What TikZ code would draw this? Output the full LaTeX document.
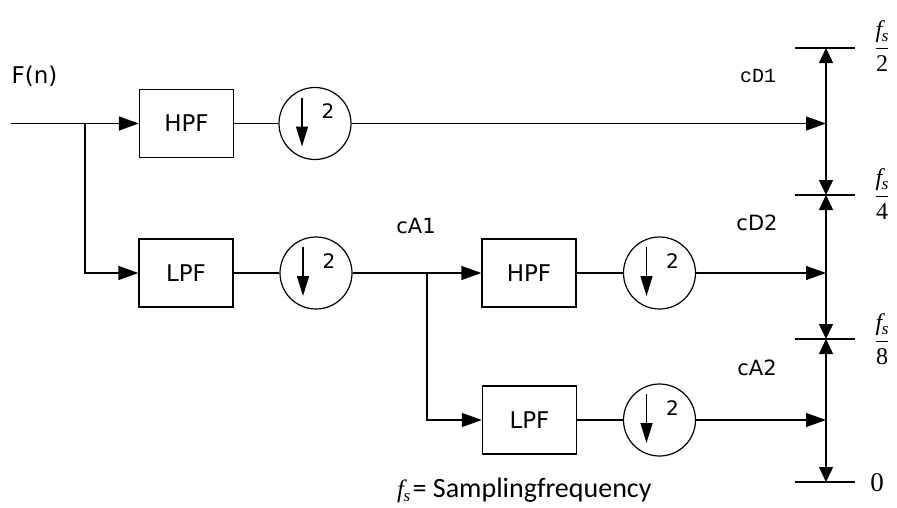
\documentclass[tikz,border=0pt]{standalone}
\usepackage{fontspec}
\setsansfont{DejaVu Sans}
\newfontfamily\monof{Liberation Mono}
\newfontfamily\calib{Carlito}
\newfontfamily\serf{Liberation Serif}
\usetikzlibrary{arrows.meta}
\newcommand\myfs{\hbox{\serf\itshape f\kern-0.5pt\raisebox{-4pt}{\fontsize{17}{17}\selectfont s}}}
\newcommand\myfrac[1]{$\displaystyle\frac{\myfs}{\hbox{\serf #1}}$}
\begin{document}
\begin{tikzpicture}[x=1pt,y=-1pt,line width=1.4pt,
  blk/.style={draw, minimum width=94pt, minimum height=68pt, inner sep=0pt,
    font=\sffamily\fontsize{23}{23}\selectfont},
  dsc/.style={draw, circle, minimum size=72pt, inner sep=0pt, line width=1.2pt},
  arr/.style={-{Triangle[length=20pt,width=14pt]}},
  darr/.style={-{Triangle[length=20pt,width=12pt]}},
  varr/.style={{Triangle[length=15pt,width=14pt]}-{Triangle[length=15pt,width=14pt]}},
  lbl/.style={font=\sffamily\fontsize{21}{21}\selectfont, inner sep=0pt},
  two/.style={font=\sffamily\fontsize{20}{20}\selectfont, inner sep=0pt},
  frc/.style={font=\fontsize{24}{24}\selectfont, inner sep=0pt}]
\useasboundingbox (0,0) rectangle (897,507);

% blocks
\node[blk] (hpf1) at (186.5,123.5) {HPF};
\node[blk] (lpf1) at (186,273) {LPF};
\node[dsc] (c1) at (315,123.5) {};
\node[dsc] (c2) at (316,273) {};
\node[blk] (hpf2) at (529,273) {HPF};
\node[blk] (lpf2) at (529.5,420) {LPF};
\node[dsc] (c3) at (659.5,273) {};
\node[dsc] (c4) at (659.5,420) {};

% down-sampling symbols
\foreach \c in {c1,c2,c3,c4}{
  \draw[darr] ([shift={(-13,-26)}]\c.center) -- ([shift={(-13,23)}]\c.center);
  \node[two] at ([shift={(13,-12)}]\c.center) {2};
}

% coordinates
\coordinate (in) at (11,123.5);
\coordinate (b1) at (85,123.5);
\coordinate (b1d) at (85,273);
\coordinate (b2) at (427,273);
\coordinate (b2d) at (427,420);
\coordinate (e1) at (826,123.5);
\coordinate (e2) at (826,273);
\coordinate (e3) at (826,420);
\coordinate (k0) at (826,48);
\coordinate (k1) at (826,195);
\coordinate (k2) at (826,339);
\coordinate (k3) at (826,482);

% connectors
\draw[arr] (in) -- (hpf1.west);
\draw[arr] (b1) -- (b1d) -- (lpf1.west);
\draw (hpf1.east) -- (c1.west);
\draw (lpf1.east) -- (c2.west);
\draw[arr] (c1.east) -- (e1);
\draw[arr] (c2.east) -- (hpf2.west);
\draw[arr] (b2) -- (b2d) -- (lpf2.west);
\draw (hpf2.east) -- (c3.west);
\draw (lpf2.east) -- (c4.west);
\draw[arr] (c3.east) -- (e2);
\draw[arr] (c4.east) -- (e3);

% frequency axis
\foreach \k in {k0,k1,k2,k3}{
  \draw ([xshift=-31]\k) -- ([xshift=29]\k);
}
\draw[varr] (k0) -- (k1);
\draw[varr] (k1) -- (k2);
\draw[varr] (k2) -- (k3);

\node[frc] (f2) at (882,46) {\myfrac{2}};
\node[frc] (f4) at (882,194) {\myfrac{4}};
\node[frc] (f8) at (882,339) {\myfrac{8}};
\node[inner sep=0pt, font=\serf\fontsize{27}{27}\selectfont] (z) at (877,483) {0};

% labels
\node[inner sep=0pt, font=\sffamily\fontsize{23}{23}\selectfont] (fn) at (34.5,76) {F(n)};
\node[inner sep=0pt, font=\monof\fontsize{20}{20}\selectfont] (cd1) at (758,76) {cD1};
\node[lbl] (cd2) at (757,222.5) {cD2};
\node[lbl] (ca2) at (757,367.5) {cA2};
\node[lbl] (ca1) at (416,226) {cA1};

\node[inner sep=0pt, anchor=base east, font=\fontsize{25}{25}\selectfont] (fs) at (411,497) {\myfs};
\node[inner sep=0pt, anchor=base west, font=\calib\fontsize{28}{28}\selectfont] (sf) at (412,497) {= Samplingfrequency};
\end{tikzpicture}
\end{document}
